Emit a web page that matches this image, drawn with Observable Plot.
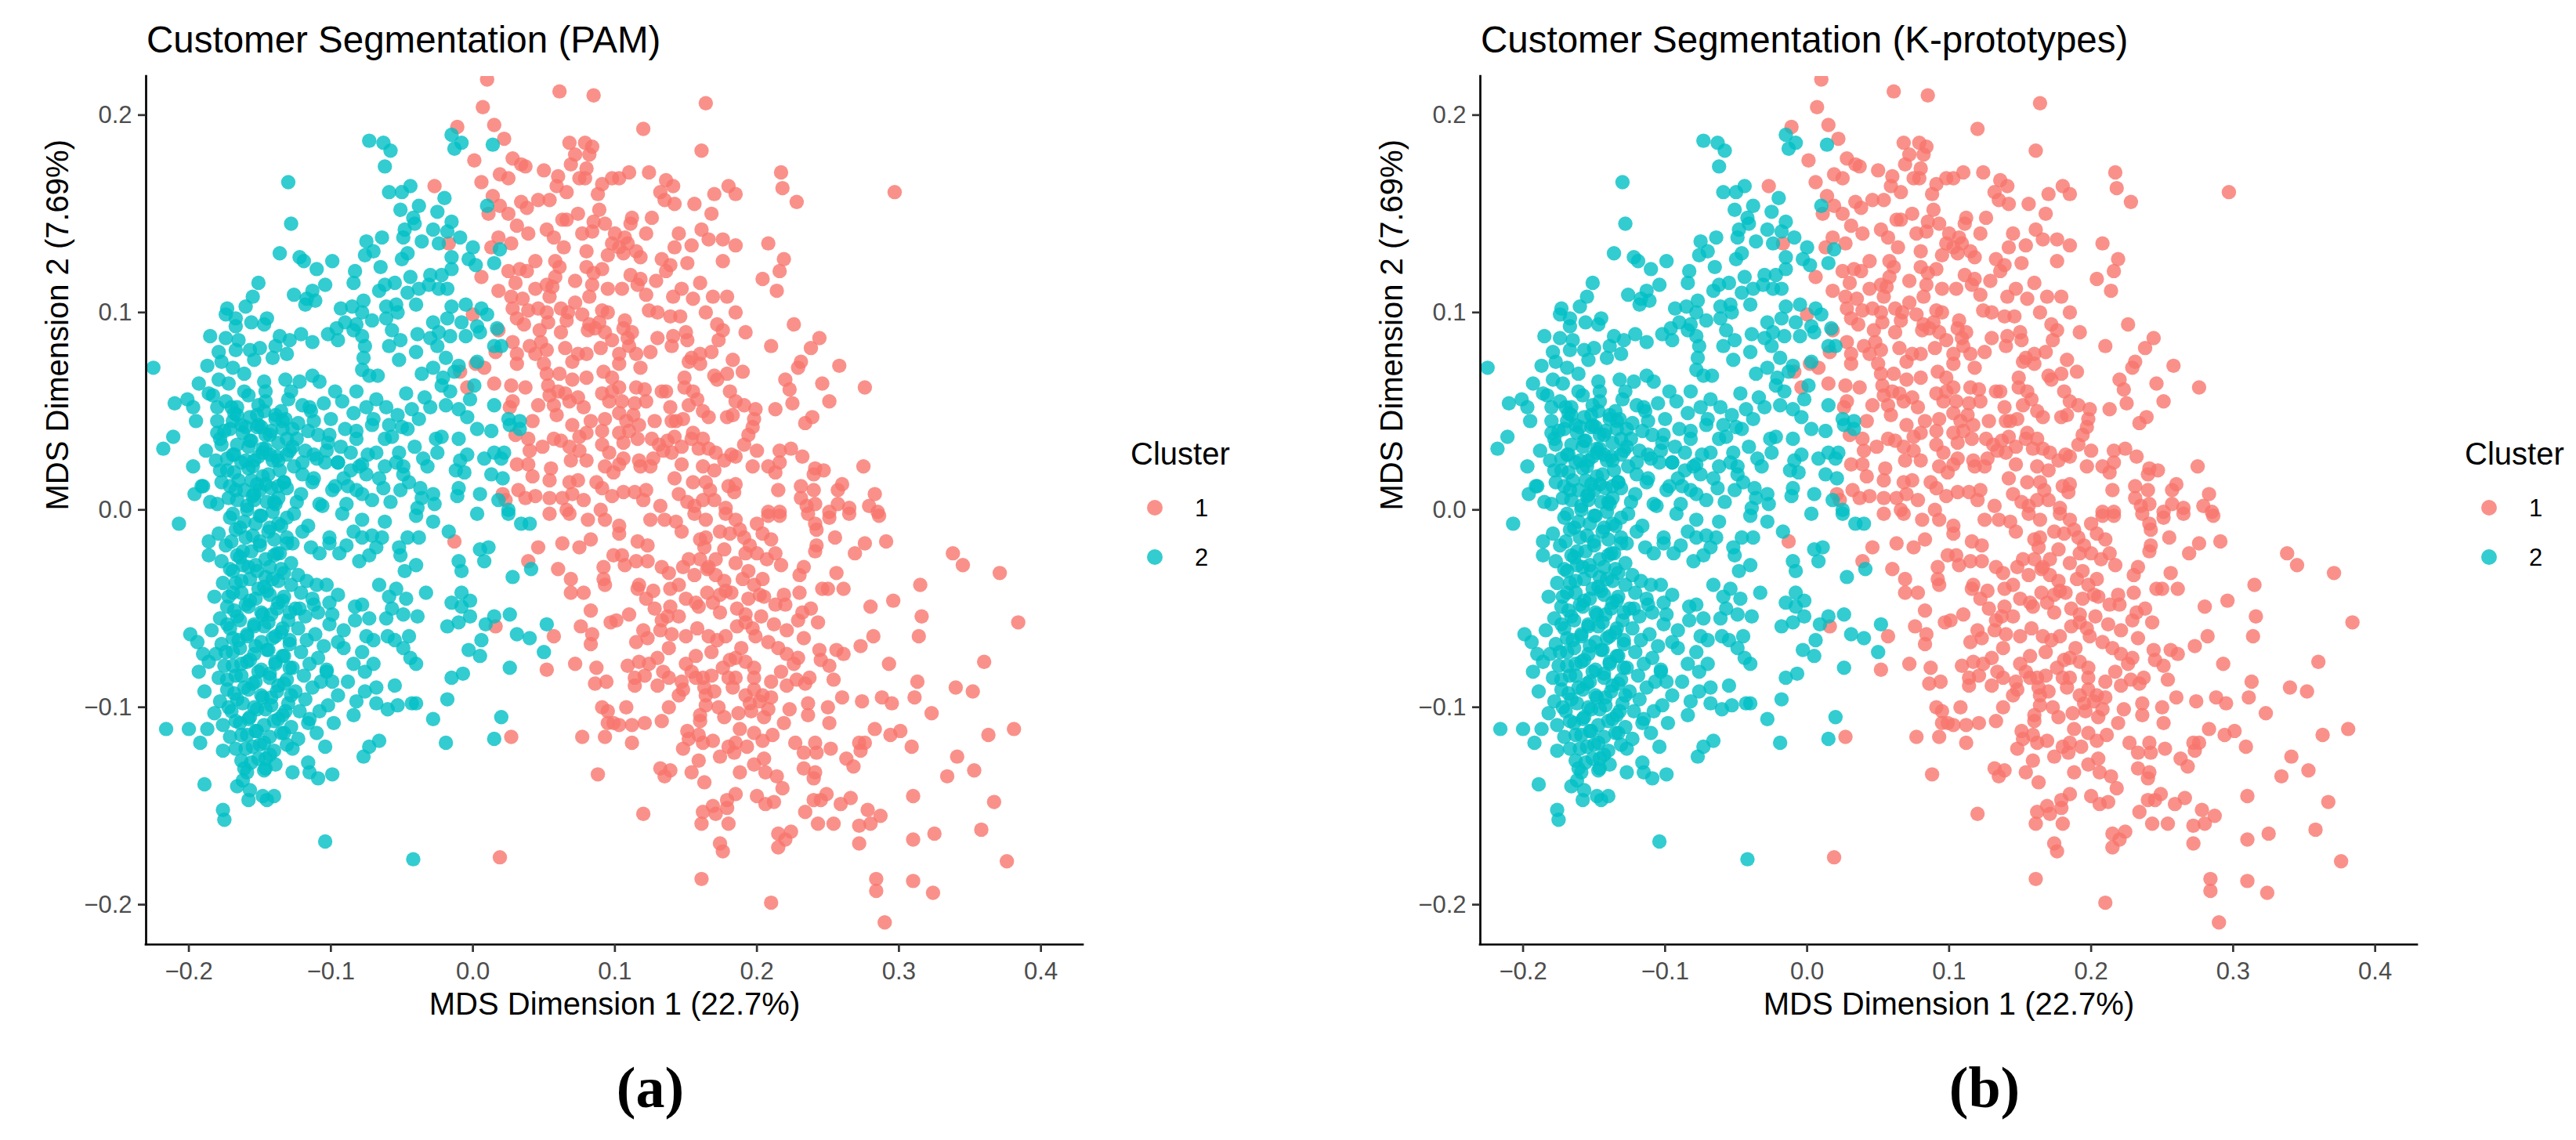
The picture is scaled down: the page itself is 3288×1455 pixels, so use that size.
<!DOCTYPE html>
<html>
<head>
<meta charset="utf-8">
<script src="https://cdn.jsdelivr.net/npm/d3@7"></script>
<script src="https://cdn.jsdelivr.net/npm/@observablehq/plot@0.6"></script>
<style>
  html, body { margin: 0; padding: 0; background: #fff; }
  #page { position: relative; width: 3288px; height: 1455px; overflow: hidden; background: #fff; }
  .panel { position: absolute; top: 0; width: 1644px; height: 1455px; }
  .title { position: absolute; font-family: "Liberation Sans", Arial, sans-serif; font-size: 47.5px; line-height: 47.5px; color: #000; white-space: nowrap; }
  .legtitle { position: absolute; font-family: "Liberation Sans", Arial, sans-serif; font-size: 40px; line-height: 40px; color: #000; white-space: nowrap; }
  .leglabel { position: absolute; font-family: "Liberation Sans", Arial, sans-serif; font-size: 31px; line-height: 31px; color: #000; }
  .legkey { position: absolute; width: 20px; height: 20px; border-radius: 50%; }
  .caption { position: absolute; font-family: "Liberation Serif", "Times New Roman", serif; font-weight: bold; font-size: 74px; line-height: 74px; color: #000; transform: translateX(-50%); white-space: nowrap; }
  svg { position: absolute; left: 0; top: 0; }
</style>
</head>
<body>
<div id="page"></div>
<script>
// ---------- text & scale values ----------
const panelTitles = ["Customer Segmentation (PAM)", "Customer Segmentation (K-prototypes)"];
const panelCaptions = ["(a)", "(b)"];
const xLabel = "MDS Dimension 1 (22.7%)";
const yLabel = "MDS Dimension 2 (7.69%)";
const legendTitle = "Cluster";
const clusterLabels = ["1", "2"];
const clusterColors = ["#F8766D", "#00BFC4"];
const xTicks = [-0.2, -0.1, 0.0, 0.1, 0.2, 0.3, 0.4];
const yTicks = [-0.2, -0.1, 0.0, 0.1, 0.2];
const xDomain = [-0.2301, 0.4297];
const yDomain = [-0.2202, 0.2196];

// ---------- cluster 1 (red) points ----------
const cluster1Upper = [
[0.010,0.218],[0.061,0.212],[0.085,0.210],[0.007,0.204],[-0.011,0.194],[0.015,0.195],[0.022,0.188],[0.001,0.177],[0.068,0.186],[0.079,0.186],[0.084,0.184],[0.072,0.180],[0.082,0.180],[0.028,0.178],[0.034,0.175],[0.037,0.174],[0.050,0.172],[0.069,0.175],[0.080,0.173],[0.019,0.170],[0.025,0.168],[0.060,0.169],[0.075,0.168],[0.079,0.168],[0.091,0.165],[0.098,0.168],[0.006,0.166],[-0.027,0.164],[0.059,0.164],[0.066,0.161],[0.014,0.159],[0.019,0.154],[0.011,0.150],[0.025,0.150],[0.034,0.156],[0.038,0.153],[0.046,0.157],[0.054,0.157],[0.089,0.152],[0.063,0.147],[0.066,0.147],[0.085,0.146],[0.093,0.145],[0.031,0.144],[0.039,0.140],[0.052,0.142],[0.057,0.138],[0.077,0.140],[0.084,0.141],[0.018,0.138],[0.027,0.135],[0.064,0.133],[0.098,0.135],[-0.017,0.135],[0.013,0.133],[0.080,0.131],[0.095,0.129],[0.044,0.126],[0.058,0.126],[0.061,0.123],[0.025,0.121],[0.033,0.122],[0.038,0.121],[0.080,0.123],[0.091,0.122],[0.006,0.118],[0.030,0.115],[0.044,0.112],[0.052,0.114],[0.056,0.113],[0.072,0.116],[0.084,0.114],[0.095,0.112],[0.018,0.111],[0.027,0.108],[0.035,0.107],[0.054,0.108],[0.082,0.108],[0.028,0.102],[0.039,0.101],[0.046,0.102],[0.052,0.100],[0.062,0.102],[0.067,0.100],[0.091,0.101],[0.000,0.099],[0.031,0.097],[0.036,0.094],[0.053,0.095],[0.066,0.096],[0.077,0.099],[0.082,0.094],[0.089,0.095],[0.018,0.091],[0.047,0.091],[0.081,0.091],[0.086,0.092],[0.093,0.090],[0.028,0.085],[0.016,0.080],[0.040,0.083],[0.044,0.079],[0.052,0.081],[0.065,0.082],[0.074,0.079],[0.080,0.079],[0.090,0.082],[0.098,0.086],[0.031,0.079],[0.031,0.074],[0.050,0.074],[0.070,0.075],[0.002,0.074],[0.008,0.072],[-0.009,0.070],[0.052,0.069],[0.061,0.069],[0.080,0.067],[0.092,0.070],[0.098,0.067],[0.015,0.064],[-0.004,0.062],[0.027,0.063],[0.037,0.062],[0.053,0.063],[0.070,0.066],[0.054,0.058],[0.065,0.059],[0.074,0.057],[0.091,0.059],[0.028,0.055],[0.046,0.053],[0.057,0.053],[0.068,0.055],[0.078,0.052],[0.096,0.055],[0.026,0.052],[0.059,0.048],[0.093,0.046],[0.042,0.045],[0.070,0.043],[0.030,0.038],[0.039,0.036],[0.057,0.036],[0.062,0.035],[0.075,0.037],[0.080,0.039],[0.091,0.040],[0.068,0.032],[0.091,0.033],[0.096,0.029],[0.040,0.030],[0.049,0.032],[0.069,0.025],[0.080,0.025],[0.031,0.023],[0.039,0.023],[0.055,0.021],[0.093,0.022],[0.099,0.019],[0.042,0.017],[0.054,0.015],[0.068,0.014],[0.074,0.015],[0.087,0.014],[0.091,0.011],[0.032,0.010],[0.021,0.008],[0.023,0.005],[0.037,0.006],[0.044,0.007],[0.054,0.006],[0.063,0.006],[0.070,0.008],[0.078,0.005],[0.098,0.007],[0.066,0.000],
[0.164,0.206],[0.120,0.193],[0.161,0.182],[0.103,0.168],[0.110,0.171],[0.124,0.171],[0.136,0.167],[0.141,0.164],[0.132,0.161],[0.135,0.157],[0.142,0.155],[0.156,0.155],[0.170,0.160],[0.180,0.164],[0.185,0.160],[0.217,0.171],[0.218,0.163],[0.228,0.156],[0.297,0.161],[0.168,0.150],[0.112,0.148],[0.126,0.148],[0.111,0.145],[0.161,0.142],[0.122,0.140],[0.107,0.138],[0.103,0.133],[0.109,0.135],[0.115,0.131],[0.106,0.130],[0.142,0.133],[0.154,0.134],[0.166,0.137],[0.176,0.137],[0.185,0.134],[0.208,0.135],[0.133,0.127],[0.139,0.124],[0.136,0.121],[0.151,0.125],[0.176,0.126],[0.219,0.127],[0.216,0.121],[0.204,0.117],[0.214,0.111],[0.111,0.119],[0.118,0.117],[0.116,0.114],[0.129,0.116],[0.122,0.109],[0.147,0.112],[0.141,0.108],[0.155,0.107],[0.169,0.108],[0.179,0.108],[0.124,0.101],[0.139,0.098],[0.146,0.098],[0.164,0.100],[0.107,0.096],[0.106,0.092],[0.172,0.094],[0.176,0.091],[0.226,0.094],[0.192,0.090],[0.130,0.087],[0.141,0.088],[0.150,0.090],[0.151,0.086],[0.140,0.083],[0.173,0.086],[0.109,0.087],[0.110,0.083],[0.210,0.083],[0.244,0.087],[0.238,0.082],[0.103,0.079],[0.115,0.079],[0.154,0.077],[0.160,0.079],[0.152,0.075],[0.160,0.074],[0.103,0.074],[0.118,0.072],[0.183,0.076],[0.231,0.075],[0.229,0.072],[0.258,0.073],[0.179,0.069],[0.170,0.068],[0.172,0.066],[0.149,0.067],[0.149,0.062],[0.220,0.066],[0.223,0.061],[0.246,0.064],[0.276,0.062],[0.103,0.062],[0.115,0.062],[0.121,0.061],[0.133,0.060],[0.136,0.060],[0.181,0.060],[0.251,0.055],[0.225,0.054],[0.213,0.051],[0.105,0.055],[0.114,0.054],[0.122,0.055],[0.139,0.052],[0.152,0.053],[0.158,0.056],[0.162,0.050],[0.166,0.047],[0.185,0.055],[0.191,0.053],[0.199,0.051],[0.198,0.046],[0.179,0.047],[0.183,0.048],[0.239,0.047],[0.234,0.044],[0.103,0.049],[0.113,0.048],[0.108,0.045],[0.117,0.043],[0.128,0.045],[0.143,0.045],[0.148,0.046],[0.197,0.042],[0.194,0.038],[0.191,0.033],[0.103,0.039],[0.106,0.034],[0.116,0.036],[0.126,0.036],[0.131,0.033],[0.137,0.035],[0.142,0.037],[0.147,0.032],[0.154,0.036],[0.155,0.039],[0.162,0.036],[0.166,0.031],[0.171,0.029],[0.159,0.031],[0.140,0.029],[0.134,0.030],[0.216,0.030],[0.224,0.031],[0.232,0.027],[0.216,0.024],[0.208,0.022],[0.213,0.019],[0.197,0.022],[0.182,0.028],[0.185,0.027],[0.177,0.025],[0.147,0.023],[0.162,0.022],[0.106,0.026],[0.103,0.023],[0.117,0.025],[0.118,0.022],[0.127,0.026],[0.241,0.021],[0.247,0.020],[0.240,0.018],[0.275,0.022],[0.142,0.016],[0.155,0.014],[0.164,0.014],[0.167,0.010],[0.180,0.012],[0.185,0.013],[0.184,0.009],[0.231,0.012],[0.240,0.010],[0.260,0.013],[0.257,0.010],[0.283,0.008],[0.106,0.009],[0.114,0.009],[0.122,0.010],[0.132,0.002],[0.145,0.008],[0.151,0.004],[0.156,0.002],[0.162,0.005],[0.178,0.001],[0.208,-0.001],[0.216,-0.001],[0.231,0.006],[0.235,0.002],[0.241,0.003],[0.257,0.003],[0.265,0.001],[0.279,0.002],[0.251,-0.001],[0.285,-0.001]
];
const cluster1Lower = [
[-0.013,-0.016],[0.046,-0.019],[0.039,-0.026],[0.054,-0.002],[0.068,-0.002],[0.081,-0.005],[0.093,-0.005],[0.063,-0.017],[0.075,-0.019],[0.083,-0.015],[0.060,-0.030],[0.069,-0.035],[0.069,-0.042],[0.078,-0.042],[0.083,-0.051],[0.092,-0.029],[0.092,-0.035],[0.093,-0.038],[0.099,-0.023],[0.097,-0.057],[0.076,-0.059],[0.084,-0.063],[0.083,-0.068],[0.057,-0.064],[0.016,-0.059],[0.072,-0.078],[0.087,-0.080],[0.052,-0.081],[0.086,-0.088],[0.094,-0.087],[0.091,-0.100],[0.095,-0.102],[0.095,-0.108],[0.099,-0.108],[0.077,-0.115],[0.093,-0.115],[0.027,-0.115],[0.088,-0.134],[0.019,-0.176],
[0.103,-0.008],[0.103,-0.012],[0.125,-0.005],[0.135,-0.005],[0.143,-0.006],[0.147,-0.011],[0.156,-0.002],[0.164,-0.005],[0.178,-0.002],[0.164,-0.014],[0.163,-0.019],[0.174,-0.011],[0.181,-0.012],[0.188,-0.010],[0.191,-0.014],[0.200,-0.007],[0.204,-0.012],[0.210,-0.015],[0.208,-0.003],[0.216,-0.003],[0.177,-0.020],[0.192,-0.022],[0.200,-0.022],[0.213,-0.022],[0.207,-0.025],[0.217,-0.028],[0.236,-0.002],[0.241,-0.007],[0.242,-0.010],[0.251,-0.004],[0.265,-0.002],[0.286,-0.003],[0.255,-0.014],[0.242,-0.018],[0.241,-0.021],[0.276,-0.017],[0.269,-0.022],[0.291,-0.016],[0.338,-0.022],[0.345,-0.028],[0.371,-0.032],[0.116,-0.016],[0.123,-0.018],[0.105,-0.023],[0.107,-0.028],[0.115,-0.026],[0.123,-0.026],[0.133,-0.029],[0.138,-0.032],[0.148,-0.029],[0.152,-0.025],[0.156,-0.033],[0.160,-0.025],[0.166,-0.029],[0.171,-0.025],[0.171,-0.033],[0.177,-0.036],[0.185,-0.027],[0.190,-0.035],[0.194,-0.031],[0.198,-0.038],[0.204,-0.035],[0.202,-0.043],[0.230,-0.033],[0.233,-0.029],[0.256,-0.032],[0.250,-0.040],[0.246,-0.040],[0.261,-0.040],[0.230,-0.042],[0.219,-0.043],[0.315,-0.038],[0.117,-0.038],[0.116,-0.040],[0.127,-0.041],[0.139,-0.040],[0.122,-0.045],[0.110,-0.053],[0.101,-0.056],[0.139,-0.049],[0.145,-0.054],[0.137,-0.054],[0.133,-0.056],[0.157,-0.047],[0.159,-0.049],[0.169,-0.047],[0.174,-0.052],[0.165,-0.042],[0.174,-0.043],[0.182,-0.042],[0.194,-0.045],[0.213,-0.048],[0.220,-0.048],[0.232,-0.052],[0.238,-0.050],[0.192,-0.053],[0.203,-0.054],[0.229,-0.056],[0.243,-0.057],[0.280,-0.049],[0.296,-0.046],[0.316,-0.054],[0.384,-0.057],[0.314,-0.064],[0.282,-0.064],[0.273,-0.069],[0.120,-0.061],[0.115,-0.067],[0.123,-0.065],[0.132,-0.061],[0.140,-0.063],[0.150,-0.064],[0.166,-0.064],[0.172,-0.066],[0.178,-0.064],[0.186,-0.059],[0.192,-0.057],[0.199,-0.064],[0.208,-0.067],[0.215,-0.070],[0.221,-0.073],[0.229,-0.075],[0.221,-0.061],[0.233,-0.065],[0.244,-0.071],[0.256,-0.071],[0.261,-0.073],[0.245,-0.076],[0.251,-0.079],[0.254,-0.086],[0.293,-0.078],[0.360,-0.077],[0.313,-0.087],[0.340,-0.090],[0.352,-0.092],[0.311,-0.095],[0.109,-0.079],[0.117,-0.077],[0.124,-0.078],[0.130,-0.075],[0.114,-0.085],[0.121,-0.084],[0.114,-0.089],[0.130,-0.089],[0.134,-0.082],[0.138,-0.085],[0.150,-0.078],[0.157,-0.074],[0.154,-0.082],[0.147,-0.087],[0.148,-0.091],[0.157,-0.085],[0.162,-0.085],[0.168,-0.084],[0.163,-0.090],[0.145,-0.094],[0.164,-0.094],[0.181,-0.076],[0.185,-0.075],[0.192,-0.077],[0.180,-0.085],[0.185,-0.085],[0.198,-0.080],[0.198,-0.085],[0.210,-0.087],[0.217,-0.082],[0.221,-0.089],[0.228,-0.086],[0.234,-0.088],[0.237,-0.085],[0.192,-0.094],[0.198,-0.091],[0.202,-0.097],[0.204,-0.094],[0.195,-0.098],[0.108,-0.100],[0.103,-0.109],[0.112,-0.109],[0.121,-0.108],[0.112,-0.118],[0.133,-0.107],[0.138,-0.100],[0.160,-0.104],[0.164,-0.099],[0.173,-0.100],[0.177,-0.105],[0.205,-0.105],[0.208,-0.101],[0.223,-0.101],[0.236,-0.098],[0.236,-0.104],[0.250,-0.100],[0.251,-0.108],[0.260,-0.095],[0.274,-0.097],[0.288,-0.095],[0.295,-0.098],[0.323,-0.103],[0.363,-0.114],[0.381,-0.111],[0.283,-0.111],[0.294,-0.114],[0.301,-0.112],[0.309,-0.120],[0.151,-0.112],[0.152,-0.116],[0.159,-0.114],[0.162,-0.118],[0.169,-0.117],[0.188,-0.111],[0.185,-0.118],[0.180,-0.120],[0.184,-0.123],[0.198,-0.113],[0.204,-0.117],[0.211,-0.114],[0.233,-0.123],[0.241,-0.118],[0.242,-0.123],[0.252,-0.121],[0.272,-0.118],[0.276,-0.118],[0.273,-0.122],[0.263,-0.126],[0.268,-0.130],[0.341,-0.125],[0.353,-0.132],[0.334,-0.135],[0.132,-0.131],[0.139,-0.132],[0.135,-0.135],[0.154,-0.133],[0.159,-0.127],[0.188,-0.133],[0.198,-0.129],[0.206,-0.133],[0.233,-0.131],[0.241,-0.133],[0.240,-0.136],[0.218,-0.141],[0.185,-0.144],[0.179,-0.147],[0.179,-0.151],[0.169,-0.150],[0.162,-0.153],[0.171,-0.154],[0.161,-0.159],[0.180,-0.159],[0.120,-0.154],[0.206,-0.149],[0.212,-0.148],[0.234,-0.153],[0.240,-0.147],[0.245,-0.147],[0.249,-0.144],[0.259,-0.149],[0.266,-0.146],[0.243,-0.159],[0.254,-0.159],[0.278,-0.152],[0.287,-0.155],[0.272,-0.160],[0.280,-0.159],[0.310,-0.145],[0.367,-0.148],[0.215,-0.164],[0.224,-0.163],[0.220,-0.167],[0.215,-0.171],[0.174,-0.169],[0.176,-0.173],[0.272,-0.169],[0.310,-0.167],[0.325,-0.164],[0.358,-0.162],[0.376,-0.178],[0.161,-0.187],[0.284,-0.187],[0.284,-0.193],[0.310,-0.188],[0.324,-0.194],[0.210,-0.199],[0.290,-0.209]
];
// overlapping red points inside the densest red areas
const cluster1Dense = [
[0.165,-0.030],[0.178,-0.041],[0.186,-0.050],[0.197,-0.060],[0.205,-0.044],[0.212,-0.058],[0.189,-0.070],[0.176,-0.080],[0.168,-0.072],[0.158,-0.060],[0.150,-0.045],[0.183,-0.090],[0.196,-0.102],[0.170,-0.092],[0.160,-0.107],[0.210,-0.095],[0.226,-0.078],[0.219,-0.108],[0.187,-0.103],[0.174,-0.125],[0.193,-0.120],[0.205,-0.126],[0.227,-0.118],[0.214,-0.135],[0.200,-0.145],[0.163,-0.138],[0.148,-0.121],[0.138,-0.070],[0.128,-0.050],[0.145,-0.038],[0.160,-0.015],[0.185,-0.005],[0.195,-0.018],[0.170,0.005],
[0.062,0.090],[0.072,0.105],[0.085,0.120],[0.095,0.100],[0.105,0.112],[0.112,0.090],[0.125,0.080],[0.130,0.100],[0.118,0.128],[0.100,0.140],[0.088,0.160],[0.074,0.150],[0.058,0.118],[0.048,0.085],[0.060,0.060],[0.083,0.045],[0.098,0.060],[0.110,0.040],[0.125,0.022],[0.140,0.045],[0.155,0.060],[0.168,0.080],[0.185,0.100],[0.160,0.115],[0.145,0.140],[0.190,0.070],[0.200,0.030],[0.215,0.010],[0.170,0.020],[0.120,0.005],[0.090,0.000],[0.075,0.030]
];

// ---------- cluster 2 (cyan) points ----------
const cluster2Upper = [
[-0.073,0.187],[-0.063,0.186],[-0.058,0.182],[-0.062,0.174],[-0.015,0.190],[-0.008,0.186],[-0.013,0.183],[0.014,0.185],[-0.130,0.166],[-0.128,0.145],[-0.059,0.161],[-0.050,0.161],[-0.044,0.164],[-0.020,0.158],[-0.051,0.152],[-0.038,0.154],[-0.025,0.151],[-0.042,0.148],[-0.041,0.145],[0.010,0.154],[-0.015,0.146],[-0.048,0.142],[-0.028,0.142],[-0.018,0.141],[-0.049,0.138],[-0.036,0.136],[-0.024,0.135],[-0.009,0.138],[-0.075,0.136],[-0.064,0.138],[0.000,0.133],[0.019,0.132],[-0.076,0.129],[-0.070,0.131],[-0.046,0.130],[-0.050,0.127],[-0.015,0.128],[-0.003,0.127],[0.002,0.124],[0.015,0.125],[-0.136,0.130],[-0.122,0.128],[-0.119,0.126],[-0.099,0.126],[-0.110,0.122],[-0.083,0.121],[-0.084,0.115],[-0.065,0.123],[-0.044,0.118],[-0.030,0.119],[-0.022,0.119],[-0.015,0.122],[-0.055,0.115],[-0.062,0.114],[-0.066,0.111],[-0.046,0.110],[-0.038,0.112],[-0.031,0.114],[-0.024,0.112],[-0.018,0.112],[-0.151,0.115],[-0.155,0.108],[-0.160,0.103],[-0.173,0.102],[-0.174,0.099],[-0.104,0.114],[-0.113,0.111],[-0.126,0.109],[-0.117,0.107],[-0.118,0.104],[-0.111,0.106],[-0.077,0.106],[-0.093,0.102],[-0.085,0.103],[-0.078,0.100],[-0.061,0.103],[-0.054,0.104],[-0.053,0.100],[-0.061,0.097],[-0.040,0.104],[-0.015,0.103],[-0.005,0.104],[0.006,0.102],[0.010,0.099],[-0.167,0.097],[-0.167,0.093],[-0.156,0.095],[-0.145,0.097],[-0.147,0.094],[-0.071,0.096],[-0.090,0.095],[-0.082,0.094],[-0.096,0.092],[-0.084,0.091],[-0.057,0.091],[-0.028,0.095],[-0.018,0.097],[-0.008,0.095],[0.003,0.093],[0.017,0.092],[-0.185,0.088],[-0.174,0.087],[-0.165,0.086],[-0.136,0.088],[-0.129,0.086],[-0.121,0.089],[-0.113,0.085],[-0.102,0.089],[-0.095,0.086],[-0.078,0.088],[-0.076,0.083],[-0.051,0.086],[-0.039,0.089],[-0.030,0.087],[-0.024,0.090],[-0.016,0.088],[-0.005,0.088],[0.005,0.090],[0.015,0.083],[0.020,0.083],[-0.225,0.072],[-0.179,0.080],[-0.167,0.081],[-0.157,0.081],[-0.150,0.082],[-0.139,0.083],[-0.131,0.079],[-0.141,0.077],[-0.154,0.076],[-0.177,0.075],[-0.187,0.073],[-0.169,0.072],[-0.059,0.083],[-0.040,0.080],[-0.052,0.076],[-0.025,0.083],[-0.019,0.077],[-0.010,0.073],[0.003,0.075],[-0.077,0.077],[-0.078,0.071],[-0.067,0.068],[-0.073,0.068],[-0.036,0.069],[-0.028,0.072],[-0.021,0.067],[-0.013,0.070],[-0.193,0.064],[-0.186,0.059],[-0.179,0.066],[-0.172,0.064],[-0.161,0.069],[-0.158,0.058],[-0.147,0.065],[-0.146,0.060],[-0.132,0.066],[-0.122,0.065],[-0.113,0.068],[-0.108,0.065],[-0.097,0.060],[-0.082,0.060],[-0.068,0.056],[-0.047,0.059],[-0.034,0.057],[-0.022,0.063],[-0.016,0.060],[0.001,0.063],[-0.002,0.056],[0.015,0.053],[-0.210,0.054],[-0.201,0.056],[-0.197,0.052],[-0.180,0.052],[-0.174,0.055],[-0.166,0.052],[-0.151,0.053],[-0.139,0.048],[-0.130,0.056],[-0.120,0.053],[-0.114,0.050],[-0.105,0.054],[-0.092,0.055],[-0.084,0.049],[-0.075,0.052],[-0.061,0.052],[-0.053,0.048],[-0.043,0.051],[-0.030,0.052],[-0.019,0.053],[-0.010,0.051],[-0.004,0.047],[0.025,0.046],[0.033,0.045],[0.033,0.041],[0.026,0.043],[0.013,0.040],[0.003,0.041],[-0.180,0.045],[-0.180,0.039],[-0.178,0.036],[-0.169,0.045],[-0.160,0.042],[-0.151,0.043],[-0.146,0.038],[-0.134,0.045],[-0.127,0.041],[-0.124,0.036],[-0.112,0.045],[-0.101,0.038],[-0.090,0.041],[-0.082,0.036],[-0.071,0.043],[-0.059,0.043],[-0.057,0.037],[-0.046,0.041],[-0.038,0.046],[-0.026,0.036],[-0.022,0.037],[-0.010,0.036],[-0.211,0.037],[-0.218,0.031],[-0.197,0.022],[-0.181,0.025],[-0.173,0.020],[-0.169,0.028],[-0.158,0.032],[-0.154,0.025],[-0.148,0.029],[-0.137,0.025],[-0.129,0.030],[-0.120,0.024],[-0.112,0.028],[-0.103,0.030],[-0.095,0.024],[-0.086,0.029],[-0.078,0.023],[-0.068,0.029],[-0.062,0.022],[-0.052,0.029],[-0.049,0.022],[-0.035,0.026],[-0.025,0.029],[-0.009,0.025],[-0.004,0.028],[0.008,0.026],[0.015,0.029],[0.022,0.029],[0.020,0.026],[0.013,0.018],[0.021,0.016],[-0.006,0.019],[-0.012,0.020],[-0.196,0.008],[-0.191,0.012],[-0.185,0.004],[-0.177,0.014],[-0.167,0.010],[-0.156,0.015],[-0.154,0.005],[-0.146,0.013],[-0.139,0.003],[-0.131,0.011],[-0.124,0.004],[-0.113,0.014],[-0.108,0.003],[-0.099,0.010],[-0.091,0.016],[-0.082,0.010],[-0.075,0.018],[-0.071,0.005],[-0.063,0.011],[-0.051,0.010],[-0.049,0.018],[-0.039,0.001],[-0.037,0.011],[-0.028,0.008],[-0.027,0.003],[-0.010,0.011],[-0.011,0.007],[0.005,0.008],[0.018,0.005],[0.025,0.000],
[-0.195,0.045],[-0.188,0.030],[-0.183,0.058],[-0.178,0.020],[-0.175,0.040],[-0.172,0.006],[-0.170,0.052],[-0.168,0.028],[-0.165,0.015],[-0.163,0.043],[-0.161,0.060],[-0.159,0.002],[-0.157,0.035],[-0.155,0.022],[-0.152,0.048],[-0.150,0.010],[-0.148,0.031],[-0.146,0.055],[-0.144,0.018],[-0.142,0.040],[-0.140,0.004],[-0.138,0.027],[-0.135,0.050],[-0.133,0.014],[-0.131,0.036],[-0.128,0.060],[-0.126,0.022],[-0.123,0.044],[-0.121,0.008],[-0.118,0.030],[-0.115,0.052],[-0.112,0.016],[-0.109,0.038],[-0.106,0.002],[-0.104,0.024],[-0.100,0.046],[-0.097,0.012],[-0.093,0.032],[-0.089,0.003],[-0.086,0.020],[-0.082,0.040],[-0.078,0.008],[-0.074,0.028],[-0.070,0.046],[-0.066,0.016],[-0.062,0.036],[-0.058,0.004],[-0.054,0.024],[-0.050,0.042],[-0.045,0.014],[-0.041,0.032],[-0.036,0.006],[-0.032,0.022],[-0.190,0.012],[-0.180,0.003],[-0.177,0.033],[-0.166,0.048],[-0.160,0.025],[-0.154,0.008],[-0.149,0.042],[-0.143,0.028],[-0.137,0.012],[-0.132,0.046],[-0.127,0.032],[-0.120,0.018],[-0.116,0.040],[-0.110,0.026],[-0.102,0.034],[-0.095,0.024],[-0.088,0.012],[-0.080,0.022]
];
const cluster2Lower = [
[-0.207,-0.007],[-0.186,-0.016],[-0.186,-0.023],[-0.199,-0.063],[-0.194,-0.067],[-0.190,-0.073],[-0.186,-0.077],[-0.193,-0.082],[-0.189,-0.092],[-0.216,-0.111],[-0.200,-0.111],[-0.187,-0.111],[-0.192,-0.118],[-0.176,-0.122],[-0.189,-0.139],[-0.176,-0.152],[-0.175,-0.157],[-0.166,-0.140],[-0.161,-0.131],[-0.162,-0.137],[-0.157,-0.142],[-0.158,-0.147],[-0.148,-0.145],[-0.145,-0.147],[-0.140,-0.145],[-0.146,-0.131],[-0.127,-0.133],[-0.116,-0.128],[-0.115,-0.133],[-0.109,-0.136],[-0.099,-0.134],[-0.104,-0.120],[-0.127,-0.121],[-0.110,-0.113],[-0.104,-0.168],[-0.042,-0.177],[-0.066,-0.117],[-0.073,-0.120],[-0.077,-0.125],[-0.068,-0.098],[-0.060,-0.101],[-0.053,-0.099],[-0.043,-0.098],[-0.040,-0.098],[-0.055,-0.089],[-0.068,-0.090],[-0.076,-0.092],[-0.084,-0.104],[-0.028,-0.106],[-0.018,-0.096],[-0.019,-0.118],[0.020,-0.105],[0.015,-0.116],[-0.015,-0.085],[-0.007,-0.083],[0.026,-0.080],[0.050,-0.072],[0.052,-0.058],[0.040,-0.065],[0.031,-0.063],[0.026,-0.053],[0.015,-0.054],[0.009,-0.058],[0.006,-0.066],[0.005,-0.074],[-0.003,-0.071],[-0.002,-0.054],[-0.010,-0.057],[-0.018,-0.059],[-0.008,-0.049],[-0.015,-0.047],[-0.002,-0.046],[-0.008,-0.042],[-0.033,-0.042],[0.028,-0.034],[0.041,-0.030],[-0.008,-0.031],[-0.010,-0.026],[0.008,-0.026],[0.005,-0.020],[0.011,-0.019],[-0.017,-0.011],[0.003,-0.002],[0.025,-0.002],[0.034,-0.007],[0.040,-0.007],[-0.028,-0.006],[-0.040,-0.003],[-0.038,-0.014],[-0.046,-0.014],[-0.052,-0.019],[-0.051,-0.023],[-0.048,-0.031],[-0.040,-0.028],[-0.066,-0.038],[-0.054,-0.040],[-0.047,-0.045],[-0.059,-0.044],[-0.057,-0.050],[-0.061,-0.055],[-0.049,-0.053],[-0.039,-0.054],[-0.073,-0.055],[-0.083,-0.056],[-0.083,-0.049],[-0.078,-0.048],[-0.075,-0.064],[-0.070,-0.066],[-0.060,-0.064],[-0.055,-0.066],[-0.045,-0.064],[-0.049,-0.070],[-0.044,-0.075],[-0.040,-0.078],[-0.078,-0.072],[-0.070,-0.078],[-0.076,-0.082],[-0.078,-0.005],[-0.062,-0.006],[-0.084,-0.011],[-0.078,-0.014],[-0.071,-0.013],[-0.064,-0.014],[-0.080,-0.026],[-0.073,-0.023],[-0.068,-0.019],[-0.089,-0.018],[-0.094,-0.022],[-0.101,-0.014],[-0.101,-0.017],[-0.108,-0.022],[-0.092,-0.002],[-0.110,-0.038],[-0.103,-0.038],[-0.095,-0.043],[-0.101,-0.047],[-0.113,-0.045],[-0.122,-0.050],[-0.109,-0.052],[-0.099,-0.053],[-0.101,-0.058],[-0.091,-0.061],[-0.095,-0.067],[-0.091,-0.070],[-0.084,-0.078],[-0.103,-0.082],[-0.099,-0.087],[-0.088,-0.087],[-0.082,-0.097],[-0.095,-0.094],[-0.102,-0.099],[-0.098,-0.108],[-0.115,-0.106],[-0.108,-0.102],
[-0.171,-0.004],[-0.161,-0.006],[-0.149,-0.003],[-0.137,-0.007],[-0.126,-0.002],[-0.116,-0.008],[-0.179,-0.012],[-0.167,-0.010],[-0.155,-0.013],[-0.143,-0.009],[-0.131,-0.014],[-0.120,-0.011],[-0.174,-0.018],[-0.162,-0.021],[-0.150,-0.016],[-0.138,-0.022],[-0.127,-0.017],[-0.114,-0.019],[-0.177,-0.026],[-0.164,-0.024],[-0.153,-0.028],[-0.140,-0.023],[-0.128,-0.027],[-0.169,-0.031],[-0.158,-0.029],[-0.146,-0.034],[-0.135,-0.030],[-0.123,-0.033],[-0.176,-0.037],[-0.163,-0.036],[-0.151,-0.040],[-0.141,-0.035],[-0.128,-0.038],[-0.117,-0.036],[-0.182,-0.044],[-0.169,-0.042],[-0.157,-0.046],[-0.145,-0.041],[-0.133,-0.044],[-0.121,-0.042],[-0.173,-0.049],[-0.160,-0.048],[-0.149,-0.052],[-0.137,-0.047],[-0.125,-0.050],[-0.112,-0.048],[-0.178,-0.055],[-0.166,-0.054],[-0.154,-0.058],[-0.142,-0.053],[-0.130,-0.056],[-0.118,-0.054],[-0.184,-0.061],[-0.171,-0.060],[-0.159,-0.064],[-0.147,-0.059],[-0.135,-0.062],[-0.123,-0.060],[-0.111,-0.063],[-0.177,-0.068],[-0.165,-0.066],[-0.153,-0.069],[-0.141,-0.065],[-0.129,-0.068],[-0.117,-0.066],[-0.105,-0.069],[-0.181,-0.073],[-0.169,-0.072],[-0.157,-0.076],[-0.145,-0.071],[-0.133,-0.074],[-0.121,-0.072],[-0.109,-0.075],[-0.175,-0.079],[-0.163,-0.078],[-0.151,-0.082],[-0.139,-0.077],[-0.127,-0.080],[-0.115,-0.078],[-0.103,-0.081],[-0.179,-0.085],[-0.167,-0.084],[-0.155,-0.088],[-0.143,-0.083],[-0.131,-0.086],[-0.119,-0.084],[-0.107,-0.087],[-0.173,-0.091],[-0.161,-0.090],[-0.149,-0.094],[-0.137,-0.089],[-0.125,-0.092],[-0.113,-0.090],[-0.178,-0.097],[-0.166,-0.096],[-0.154,-0.100],[-0.142,-0.095],[-0.130,-0.098],[-0.118,-0.096],[-0.182,-0.103],[-0.170,-0.102],[-0.158,-0.106],[-0.146,-0.101],[-0.134,-0.104],[-0.122,-0.102],[-0.176,-0.109],[-0.164,-0.108],[-0.152,-0.112],[-0.140,-0.107],[-0.128,-0.110],[-0.116,-0.108],[-0.171,-0.115],[-0.159,-0.114],[-0.147,-0.118],[-0.135,-0.113],[-0.123,-0.116],[-0.167,-0.121],[-0.155,-0.120],[-0.143,-0.124],[-0.131,-0.119],[-0.163,-0.127],[-0.151,-0.126],[-0.139,-0.129],[-0.159,-0.133],[-0.147,-0.132]
];
// the solid, heavily overlapped cyan column
const cluster2Core = [
[-0.168,0.049],[-0.157,0.047],[-0.147,0.050],[-0.139,0.046],
[-0.171,0.041],[-0.162,0.039],[-0.152,0.042],[-0.143,0.038],[-0.134,0.041],
[-0.166,0.033],[-0.156,0.035],[-0.146,0.031],[-0.137,0.034],
[-0.173,0.026],[-0.163,0.024],[-0.151,0.027],[-0.141,0.025],[-0.131,0.028],
[-0.168,0.019],[-0.158,0.021],[-0.148,0.017],[-0.136,0.020],
[-0.171,0.012],[-0.161,0.010],[-0.152,0.013],[-0.142,0.011],[-0.133,0.014],
[-0.166,0.005],[-0.155,0.007],[-0.145,0.004],[-0.137,0.006],
[-0.169,-0.002],[-0.159,0.000],[-0.150,-0.003],[-0.141,-0.001],[-0.131,-0.004],
[-0.164,-0.009],[-0.153,-0.007],[-0.144,-0.011],[-0.135,-0.008],
[-0.170,-0.016],[-0.160,-0.014],[-0.150,-0.018],[-0.140,-0.015],[-0.131,-0.017],
[-0.166,-0.023],[-0.156,-0.021],[-0.146,-0.025],[-0.136,-0.022],
[-0.171,-0.030],[-0.162,-0.028],[-0.152,-0.031],[-0.143,-0.029],[-0.133,-0.032],
[-0.167,-0.037],[-0.157,-0.035],[-0.147,-0.039],[-0.137,-0.036],
[-0.172,-0.044],[-0.163,-0.042],[-0.153,-0.045],[-0.143,-0.043],[-0.134,-0.046],
[-0.168,-0.051],[-0.158,-0.049],[-0.148,-0.053],[-0.138,-0.050],[-0.129,-0.052],
[-0.173,-0.058],[-0.164,-0.056],[-0.154,-0.059],[-0.144,-0.057],[-0.134,-0.060],
[-0.169,-0.065],[-0.159,-0.063],[-0.149,-0.067],[-0.139,-0.064],[-0.129,-0.066],
[-0.174,-0.072],[-0.164,-0.070],[-0.154,-0.073],[-0.144,-0.071],[-0.134,-0.074],
[-0.169,-0.079],[-0.159,-0.077],[-0.149,-0.081],[-0.139,-0.078],[-0.129,-0.080],
[-0.173,-0.086],[-0.163,-0.084],[-0.153,-0.087],[-0.143,-0.085],[-0.133,-0.088],
[-0.168,-0.093],[-0.158,-0.091],[-0.148,-0.095],[-0.138,-0.092],[-0.128,-0.094],
[-0.172,-0.100],[-0.162,-0.098],[-0.152,-0.101],[-0.142,-0.099],[-0.132,-0.102],
[-0.167,-0.107],[-0.157,-0.105],[-0.147,-0.109],[-0.137,-0.106],
[-0.163,-0.114],[-0.153,-0.112],[-0.143,-0.115],[-0.133,-0.113],
[-0.160,-0.121],[-0.150,-0.119],[-0.140,-0.122],
[-0.156,-0.128],[-0.146,-0.126]
];

// The K-prototypes panel shows the same points and the same split.
const pamCluster1 = cluster1Upper.concat(cluster1Lower, cluster1Dense);
const pamCluster2 = cluster2Upper.concat(cluster2Lower, cluster2Core);
const kprotoCluster1 = pamCluster1;
const kprotoCluster2 = pamCluster2;

// ---------- rendering ----------
const fmt = d => (d < 0 ? "\u2212" : "") + Math.abs(d).toFixed(1);
const page = document.getElementById("page");

function buildPanel(offsetX, title, caption, c1, c2) {
  const panel = document.createElement("div");
  panel.className = "panel";
  panel.style.left = offsetX + "px";
  page.appendChild(panel);

  const pts = c1.map(([x, y]) => ({x, y, cluster: clusterLabels[0]}))
    .concat(c2.map(([x, y]) => ({x, y, cluster: clusterLabels[1]})));

  const svg = Plot.plot({
    width: 1420,
    height: 1300,
    marginLeft: 186,
    marginRight: 38,
    marginTop: 97,
    marginBottom: 95,
    style: {fontFamily: "'Liberation Sans', Arial, sans-serif", fontSize: "31px", background: "transparent", overflow: "visible"},
    x: {domain: xDomain, label: null},
    y: {domain: yDomain, label: null},
    color: {domain: clusterLabels, range: clusterColors},
    marks: [
      Plot.dot(pts, {x: "x", y: "y", fill: "cluster", r: 9.2, fillOpacity: 0.8, clip: true}),
      Plot.ruleX([xDomain[0]], {stroke: "black", strokeWidth: 2.7, strokeLinecap: "square"}),
      Plot.ruleY([yDomain[0]], {stroke: "black", strokeWidth: 2.7, strokeLinecap: "square"}),
      Plot.axisX(xTicks, {tickFormat: fmt, tickSize: 10, tickPadding: 12, stroke: "#333333", strokeWidth: 2.7, fill: "#4D4D4D", fontSize: 31, label: null}),
      Plot.axisY(yTicks, {tickFormat: fmt, tickSize: 10, tickPadding: 8, stroke: "#333333", strokeWidth: 2.7, fill: "#4D4D4D", fontSize: 31, label: null}),
      Plot.text([xLabel], {text: d => d, frameAnchor: "bottom", lineAnchor: "bottom", dy: 89, fontSize: 40, fill: "black"}),
      Plot.text([yLabel], {text: d => d, frameAnchor: "left", rotate: -90, lineAnchor: "bottom", dx: -100, fontSize: 40, fill: "black"})
    ]
  });
  panel.appendChild(svg);

  const t = document.createElement("div");
  t.className = "title";
  t.textContent = title;
  t.style.left = "187px";
  t.style.top = "27px";
  panel.appendChild(t);

  const lt = document.createElement("div");
  lt.className = "legtitle";
  lt.textContent = legendTitle;
  lt.style.left = "1443px";
  lt.style.top = "559px";
  panel.appendChild(lt);

  clusterLabels.forEach((lab, i) => {
    const key = document.createElement("div");
    key.className = "legkey";
    key.style.background = clusterColors[i];
    key.style.opacity = "0.8";
    key.style.left = (1474 - 10) + "px";
    key.style.top = (648 + i * 63 - 10) + "px";
    panel.appendChild(key);
    const l = document.createElement("div");
    l.className = "leglabel";
    l.textContent = lab;
    l.style.left = "1525px";
    l.style.top = (633 + i * 63) + "px";
    panel.appendChild(l);
  });

  const cap = document.createElement("div");
  cap.className = "caption";
  cap.textContent = caption;
  cap.style.left = "830px";
  cap.style.top = "1351px";
  panel.appendChild(cap);
}

buildPanel(0, panelTitles[0], panelCaptions[0], pamCluster1, pamCluster2);
buildPanel(1703, panelTitles[1], panelCaptions[1], kprotoCluster1, kprotoCluster2);
</script>
</body>
</html>
